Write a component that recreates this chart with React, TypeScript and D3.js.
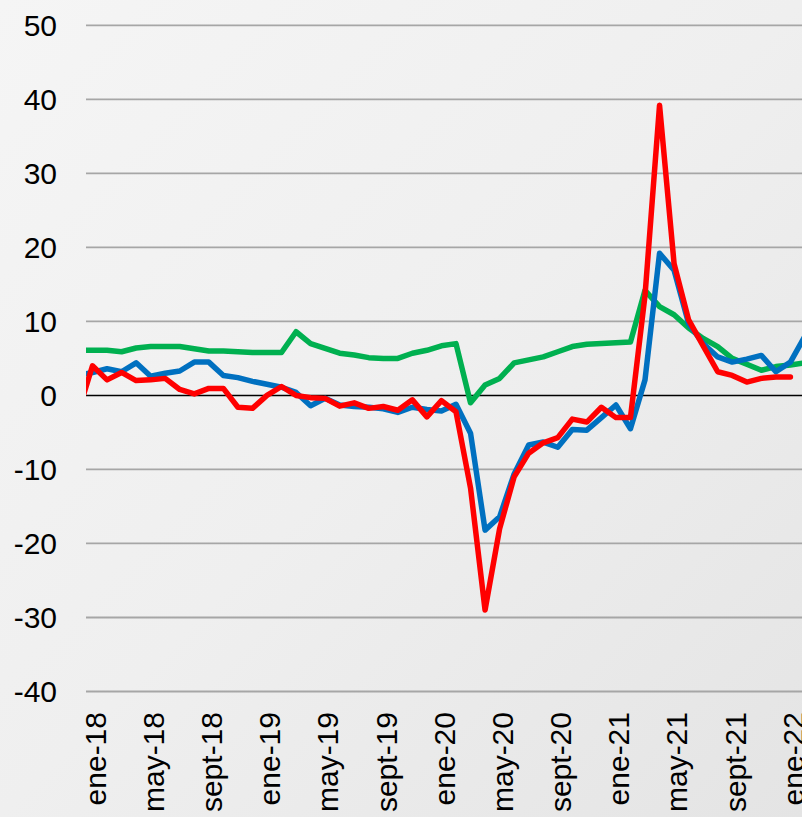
import React from "react";
import * as d3 from "d3";

const months = ["ene", "feb", "mar", "abr", "may", "jun", "jul", "ago", "sept", "oct", "nov", "dic"];
// categories from dic-17 to feb-22
const categories: string[] = ["dic-17"];
for (let y = 18; y <= 22; y++) {
  for (let m = 0; m < 12; m++) {
    if (y === 22 && m > 1) break;
    categories.push(`${months[m]}-${y}`);
  }
}

const blueSeries: (number | null)[] = [
  2.7, 3.1, 3.6, 3.2, 4.4, 2.6, 3.0, 3.3, 4.5, 4.5, 2.7, 2.4, 1.9,
  1.5, 1.1, 0.4, -1.4, -0.4, -1.3, -1.5, -1.6, -1.8, -2.3, -1.6, -1.9,
  -2.1, -1.2, -5.1, -18.2, -16.4, -10.6, -6.7, -6.3, -7.0, -4.6, -4.7, -3.0,
  -1.3, -4.5, 2.1, 19.2, 16.9, 9.7, 7.0, 5.2, 4.5, 4.9, 5.4, 3.2,
  4.5, 8.0,
];
const redSeries: (number | null)[] = [
  -2.4, 4.0, 2.1, 3.1, 2.0, 2.1, 2.3, 0.8, 0.2, 0.95, 0.95, -1.6, -1.75,
  0.0, 1.2, 0.0, -0.3, -0.4, -1.45, -1.0, -1.75, -1.5, -2.0, -0.6, -2.9,
  -0.7, -2.2, -12.5, -29.0, -18.0, -11.0, -7.8, -6.4, -5.7, -3.2, -3.6, -1.6,
  -3.0, -3.0, 13.5, 39.2, 17.8, 10.2, 6.7, 3.2, 2.7, 1.8, 2.3, 2.5,
  2.5, null,
];
const greenSeries: (number | null)[] = [
  6.1, 6.1, 6.1, 5.9, 6.4, 6.6, 6.6, 6.6, 6.3, 6.0, 6.0, 5.9, 5.8,
  5.8, 5.8, 8.6, 7.0, 6.35, 5.7, 5.45, 5.1, 5.0, 5.0, 5.7, 6.1,
  6.7, 7.0, -1.0, 1.4, 2.3, 4.4, 4.8, 5.2, 5.9, 6.6, 6.9, 7.0,
  7.1, 7.2, 14.2, 12.0, 10.9, 9.1, 7.7, 6.6, 5.0, 4.2, 3.4, 3.9,
  4.1, 4.4,
];
const yTicks = [50, 40, 30, 20, 10, 0, -10, -20, -30, -40];
const xTickLabels = ["ene-18", "may-18", "sept-18", "ene-19", "may-19", "sept-19", "ene-20", "may-20", "sept-20", "ene-21", "may-21", "sept-21", "ene-22"];

const W = 802;
const H = 817;
const plotLeft = 86;
const plotRight = 802;

export default function App() {
  // index 0 = dic-17, index 1 = ene-18
  const x = d3.scaleLinear().domain([1, 49]).range([92.5, 790.4]);
  const y = d3.scaleLinear().domain([-40, 50]).range([691.5, 25.3]);

  const line = d3
    .line<number | null>()
    .defined((d) => d !== null)
    .x((_, i) => x(i))
    .y((d) => y(d as number));

  const font = "'Liberation Sans', Arial, sans-serif";

  const series = [
    { data: greenSeries, color: "#00B050" },
    { data: blueSeries, color: "#0070C0" },
    { data: redSeries, color: "#FF0000" },
  ];

  return (
    <svg width={W} height={H} style={{ position: "absolute", left: 0, top: 0 }}>
      <defs>
        <linearGradient id="bg" x1="0" y1="0" x2="1" y2="1">
          <stop offset="0" stopColor="#f5f5f5" />
          <stop offset="0.5" stopColor="#efefef" />
          <stop offset="1" stopColor="#e4e4e4" />
        </linearGradient>
        <clipPath id="plotClip">
          <rect x={plotLeft} y={0} width={plotRight - plotLeft} height={H} />
        </clipPath>
      </defs>
      <rect x={0} y={0} width={W} height={H} fill="url(#bg)" />
      {yTicks.map((t) => (
        <line
          key={t}
          x1={plotLeft}
          x2={plotRight}
          y1={y(t)}
          y2={y(t)}
          stroke={t === 0 ? "#000" : "#a6a6a6"}
          strokeWidth={t === 0 ? 1.5 : 1.8}
        />
      ))}
      {yTicks.map((t) => (
        <text
          key={"l" + t}
          x={57}
          y={y(t)}
          dy="0.36em"
          textAnchor="end"
          fontFamily={font}
          fontSize={30}
          fill="#000"
        >
          {t}
        </text>
      ))}
      <g clipPath="url(#plotClip)">
        {series.map((s, k) => (
          <path
            key={k}
            d={line(s.data) || ""}
            fill="none"
            stroke={s.color}
            strokeWidth={5.5}
            strokeLinejoin="round"
            strokeLinecap="round"
          />
        ))}
      </g>
      {xTickLabels.map((lab) => {
        const idx = categories.indexOf(lab);
        const cx = x(idx) + 2.5;
        return (
          <text
            key={lab}
            transform={`translate(${cx},712) rotate(-90)`}
            textAnchor="end"
            dy="0.36em"
            fontFamily={font}
            fontSize={30}
            fill="#000"
          >
            {lab}
          </text>
        );
      })}
    </svg>
  );
}
